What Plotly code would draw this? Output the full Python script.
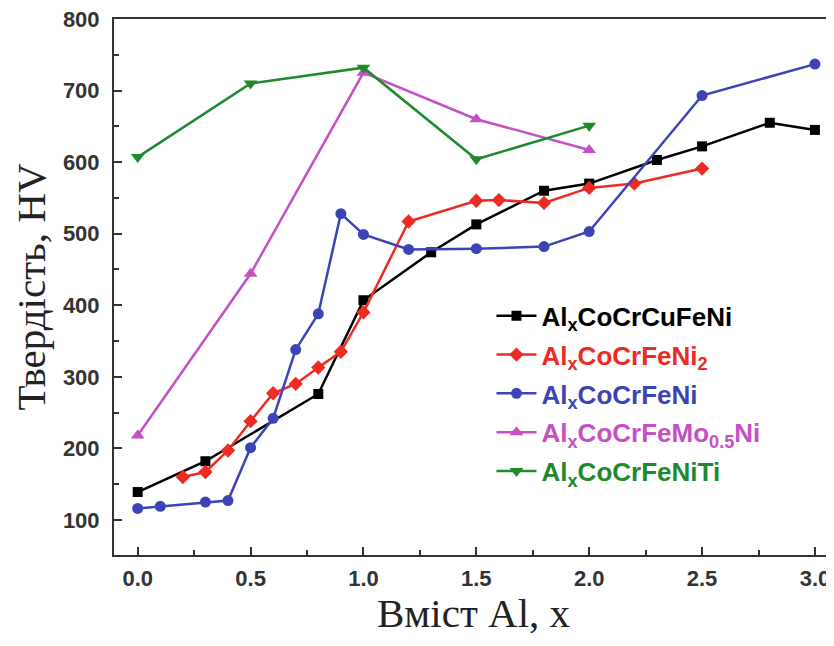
import plotly.graph_objects as go

# ---- data ----
cu_x = [0.0, 0.3, 0.8, 1.0, 1.3, 1.5, 1.8, 2.0, 2.3, 2.5, 2.8, 3.0]
cu_y = [139, 182, 276, 407, 474, 513, 560, 570, 603, 622, 655, 645]

ni2_x = [0.2, 0.3, 0.4, 0.5, 0.6, 0.7, 0.8, 0.9, 1.0, 1.2, 1.5, 1.6, 1.8, 2.0, 2.2, 2.5]
ni2_y = [160, 167, 197, 238, 277, 290, 313, 335, 390, 517, 546, 547, 543, 564, 570, 591]

ni_x = [0.0, 0.1, 0.3, 0.4, 0.5, 0.6, 0.7, 0.8, 0.9, 1.0, 1.2, 1.5, 1.8, 2.0, 2.5, 3.0]
ni_y = [116, 119, 125, 127, 201, 242, 338, 388, 528, 499, 478, 479, 482, 503, 693, 737]

mo_x = [0.0, 0.5, 1.0, 1.5, 2.0]
mo_y = [218, 444, 725, 660, 617]

ti_x = [0.0, 0.5, 1.0, 1.5, 2.0]
ti_y = [607, 710, 732, 604, 651]

names = [
    "Al<sub>x</sub>CoCrCuFeNi",
    "Al<sub>x</sub>CoCrFeNi<sub>2</sub>",
    "Al<sub>x</sub>CoCrFeNi",
    "Al<sub>x</sub>CoCrFeMo<sub>0.5</sub>Ni",
    "Al<sub>x</sub>CoCrFeNiTi",
]
colors = ["#000000", "#ec2b22", "#3c44b5", "#c64fc4", "#1f8a2c"]
symbols = ["square", "diamond", "circle", "triangle-up", "triangle-down"]
sizes = [10, 11, 11, 12, 12]

xs = [cu_x, ni2_x, ni_x, mo_x, ti_x]
ys = [cu_y, ni2_y, ni_y, mo_y, ti_y]

fig = go.Figure()
for i, (x, y, n, c, s, sz) in enumerate(zip(xs, ys, names, colors, symbols, sizes)):
    fig.add_trace(go.Scatter(
        x=x, y=y, mode="lines+markers",
        name=f"<b><span style='color:{c}'>{n}</span></b>",
        legendgroup=f"g{i}",
        line=dict(color=c, width=2.5),
        marker=dict(color=c, symbol=s, size=sz),
    ))

tickfont = dict(family="Liberation Sans, Arial", size=22, color="#333333", weight="bold")
title_font = dict(family="Liberation Serif, Times New Roman", size=41, color="#222222")
axis_common = dict(
    showline=True, linecolor="#333333", linewidth=2, mirror=True,
    ticks="inside", ticklen=8, tickwidth=1.5, tickcolor="#333333",
    showgrid=False, zeroline=False, tickfont=tickfont, automargin=False,
    ticklabeloverflow="allow",
)

fig.update_xaxes(
    range=[-0.105, 3.08], tickmode="linear", tick0=0, dtick=0.5, tickformat=".1f",
    minor=dict(ticks="inside", ticklen=5, dtick=0.25, tick0=0, tickcolor="#333333"),
    ticklabelstandoff=3,
    **axis_common,
)
fig.update_yaxes(
    range=[51, 800], tickmode="linear", tick0=0, dtick=100,
    minor=dict(ticks="inside", ticklen=5, dtick=50, tick0=0, tickcolor="#333333"),
    ticklabelstandoff=8,
    title=dict(text="Твердість, HV", font=title_font, standoff=16),
    **axis_common,
)

# x-axis title placed as an annotation for precise vertical position
fig.add_annotation(
    text="Вміст Al, x", xref="paper", yref="paper", x=0.5, y=-0.108,
    xanchor="center", yanchor="middle", showarrow=False, font=title_font,
)

# the page body has an 8px margin, so the figure is sized/offset to compensate
fig.update_layout(
    width=826, height=638,
    margin=dict(l=106, r=1, t=11, b=91),
    paper_bgcolor="white", plot_bgcolor="white",
    showlegend=True,
    legend=dict(
        x=0.525, y=0.49, xanchor="left", yanchor="top",
        font=dict(family="Liberation Sans, Arial", size=26),
        bgcolor="rgba(0,0,0,0)", tracegroupgap=2, itemwidth=40,
    ),
)

fig.write_html("out.html")
